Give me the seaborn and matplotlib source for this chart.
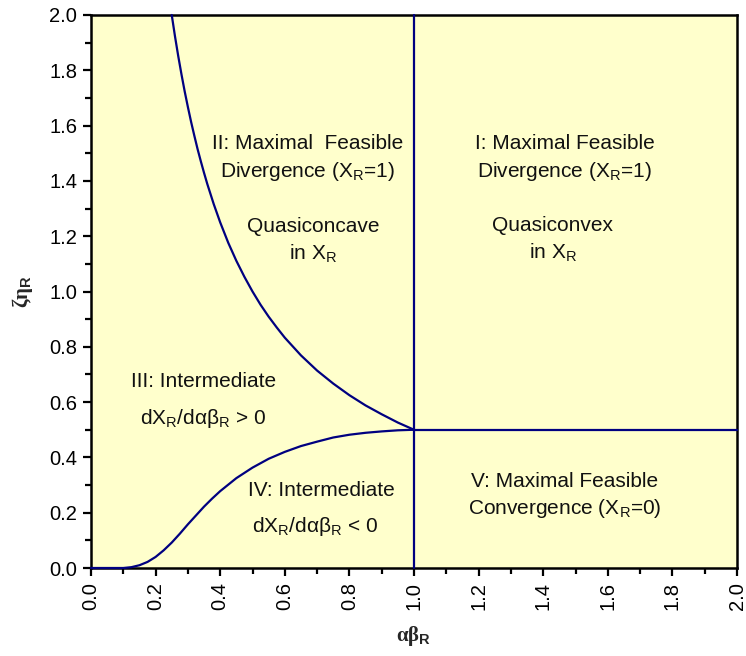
import matplotlib
matplotlib.use("Agg")
import matplotlib.pyplot as plt
from matplotlib.ticker import MultipleLocator
import seaborn as sns
import pandas as pd

sns.set_style("ticks")
plt.rcParams["font.family"] = ["Liberation Sans", "DejaVu Sans"]
plt.rcParams["mathtext.fontset"] = "custom"
plt.rcParams["mathtext.rm"] = "Liberation Sans"
plt.rcParams["mathtext.bf"] = "Liberation Sans:bold"
plt.rcParams["mathtext.it"] = "Liberation Sans:italic"

# Boundary between regions II and III
upper_x = [0.25, 0.26, 0.27, 0.28, 0.29, 0.3, 0.31, 0.32, 0.33, 0.34, 0.35,
           0.36, 0.38, 0.4, 0.425, 0.45, 0.475, 0.5, 0.525, 0.55, 0.575, 0.6,
           0.65, 0.7, 0.75, 0.8, 0.85, 0.9, 0.95, 1.0]
upper_y = [2.0, 1.923, 1.852, 1.786, 1.724, 1.667, 1.613, 1.563, 1.515, 1.471,
           1.429, 1.389, 1.316, 1.25, 1.176, 1.111, 1.053, 1.0, 0.952, 0.909,
           0.87, 0.833, 0.769, 0.714, 0.667, 0.625, 0.588, 0.556, 0.526, 0.5]

# Boundary between regions III and IV
lower_x = [0.0, 0.1, 0.125, 0.15, 0.175, 0.2, 0.225, 0.25, 0.275, 0.3, 0.325,
           0.35, 0.375, 0.4, 0.45, 0.5, 0.55, 0.6, 0.65, 0.7, 0.75, 0.8, 0.85,
           0.9, 0.95, 1.0]
lower_y = [0.0, 0.0, 0.003, 0.01, 0.022, 0.04, 0.064, 0.092, 0.124, 0.158, 0.19,
           0.222, 0.251, 0.278, 0.325, 0.363, 0.395, 0.42, 0.441, 0.457, 0.472,
           0.482, 0.489, 0.494, 0.498, 0.5]

# Straight boundaries: vertical at 1.0 and horizontal at 0.5
vert_x = [1.0, 1.0]
vert_y = [0.0, 2.0]
horiz_x = [1.0, 2.0]
horiz_y = [0.5, 0.5]

tick_vals = [0.0, 0.2, 0.4, 0.6, 0.8, 1.0, 1.2, 1.4, 1.6, 1.8, 2.0]
tick_labels = [f"{v:.1f}" for v in tick_vals]

region_labels = [
    (0.67, 1.537, "II: Maximal  Feasible"),
    (0.67, 1.433, "Divergence (X$_\\mathrm{R}$=1)"),
    (0.687, 1.235, "Quasiconcave"),
    (0.687, 1.135, "in X$_\\mathrm{R}$"),
    (1.467, 1.537, "I: Maximal Feasible"),
    (1.467, 1.433, "Divergence (X$_\\mathrm{R}$=1)"),
    (1.429, 1.237, "Quasiconvex"),
    (1.429, 1.140, "in X$_\\mathrm{R}$"),
    (0.348, 0.676, "III: Intermediate"),
    (0.348, 0.541, "dX$_\\mathrm{R}$/dαβ$_\\mathrm{R}$ > 0"),
    (0.714, 0.282, "IV: Intermediate"),
    (0.693, 0.149, "dX$_\\mathrm{R}$/dαβ$_\\mathrm{R}$ < 0"),
    (1.467, 0.312, "V: Maximal Feasible"),
    (1.467, 0.216, "Convergence (X$_\\mathrm{R}$=0)"),
]

line_color = "#000080"

fig = plt.figure(figsize=(7.46, 6.56), dpi=100)
ax = fig.add_axes([91 / 746, 1 - 568 / 656, (737 - 91) / 746, (568 - 15) / 656])
ax.set_facecolor("#FFFFCC")

for xs, ys in [(upper_x, upper_y), (lower_x, lower_y), (vert_x, vert_y), (horiz_x, horiz_y)]:
    df = pd.DataFrame({"x": xs, "y": ys})
    sns.lineplot(data=df, x="x", y="y", ax=ax, color=line_color, linewidth=1.6,
                 sort=False, estimator=None, clip_on=False, zorder=3)

for x, y, s in region_labels:
    ax.text(x, y, s, ha="center", va="center", fontsize=15, color="#111111")

ax.set_xlim(0, 2)
ax.set_ylim(0, 2)
ax.set_xticks(tick_vals)
ax.set_xticklabels(tick_labels, rotation=90, fontsize=14.5)
ax.set_yticks(tick_vals)
ax.set_yticklabels(tick_labels, fontsize=14.5)
ax.xaxis.set_minor_locator(MultipleLocator(0.1))
ax.yaxis.set_minor_locator(MultipleLocator(0.1))
ax.tick_params(which="major", direction="out", length=6, width=1.6, colors="black", pad=4)
ax.tick_params(which="minor", direction="out", length=4, width=1.6, colors="black")

for sp in ax.spines.values():
    sp.set_linewidth(1.8)
    sp.set_color("black")

ax.set_xlabel("αβ$_\\mathbf{R}$", fontsize=15, fontweight="bold", labelpad=10,
              family=["Liberation Serif", "DejaVu Serif"])
ax.set_ylabel("ζη$_\\mathbf{R}$", fontsize=15, fontweight="bold", labelpad=10,
              family=["Liberation Serif", "DejaVu Serif"])

fig.savefig("out.png", dpi=100, facecolor="white")
